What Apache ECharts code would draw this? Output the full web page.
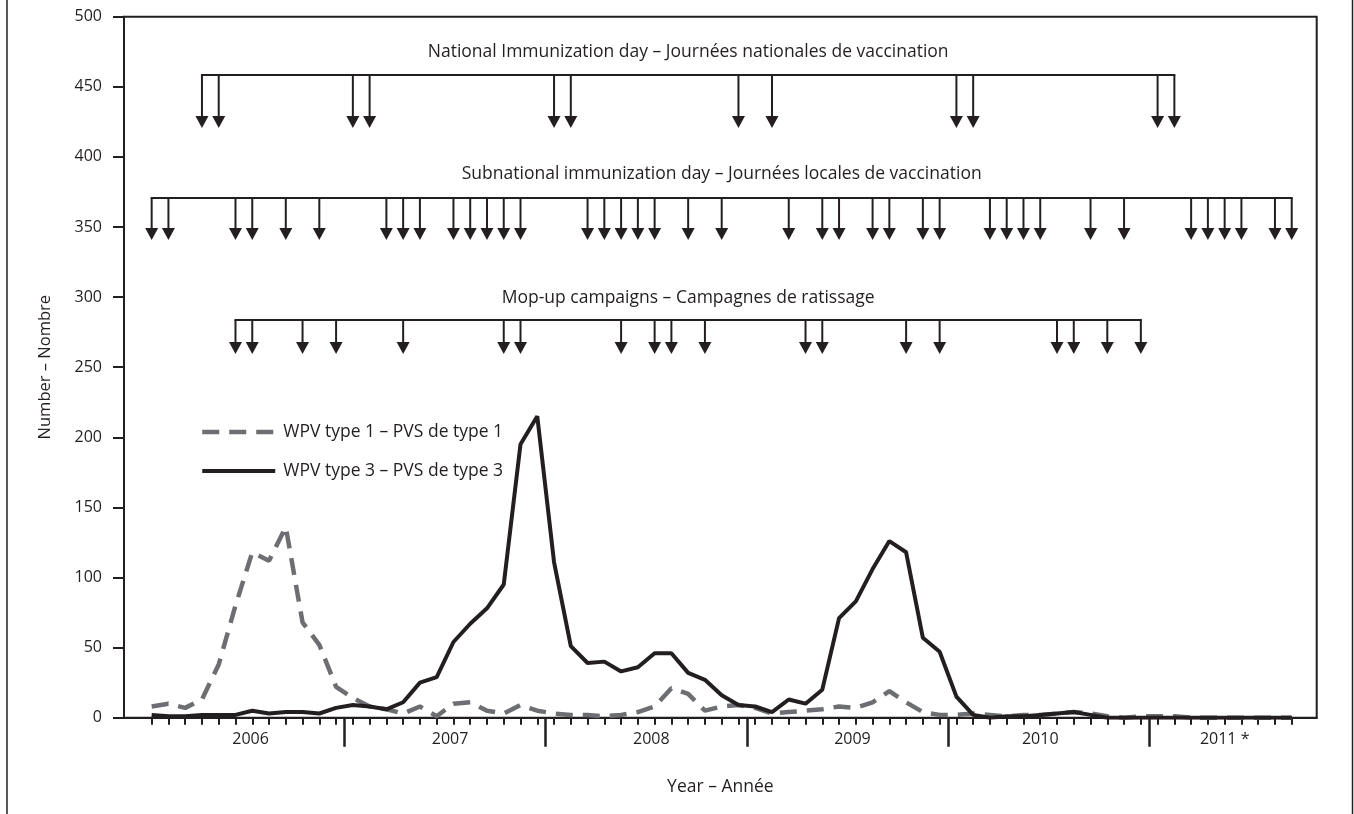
<!DOCTYPE html>
<html>
<head>
<meta charset="utf-8">
<script src="https://cdn.jsdelivr.net/npm/echarts@6/dist/echarts.min.js"></script>
<style>
  html, body { margin: 0; padding: 0; background: #ffffff; }
  #chart { width: 1354px; height: 814px; }
</style>
</head>
<body>
<div id="chart"></div>
<script>
// ---- Data (monthly counts, Jan 2006 .. Sep 2011; index 0 = Jan 2006) ----
const yearLabels = ['2006', '2007', '2008', '2009', '2010', '2011 *'];

const wpv1 = [
  8, 10, 7, 13, 38, 80, 118, 112, 136, 68, 52, 22,   // 2006
  14, 8, 6, 3, 8, 1, 10, 11, 5, 3, 9, 5,             // 2007
  3, 2, 2, 1, 2, 4, 8, 21, 17, 5, 8, 9,              // 2008
  7, 3, 4, 5, 6, 8, 7, 11, 19, 11, 4, 2,             // 2009
  2, 3, 2, 1, 2, 2, 3, 4, 3, 1, 0, 1,                // 2010
  1, 1, 0, 0, 0, 0, 0, 0, 0                          // 2011
];

const wpv3 = [
  2, 1, 1, 2, 2, 2, 5, 3, 4, 4, 3, 7,                // 2006
  9, 8, 6, 11, 25, 29, 54, 67, 78, 95, 195, 215,     // 2007
  111, 51, 39, 40, 33, 36, 46, 46, 32, 27, 16, 9,    // 2008
  8, 4, 13, 10, 20, 71, 83, 106, 126, 118, 57, 47,   // 2009
  15, 2, 0, 1, 1, 2, 3, 4, 2, 0, 0, 0,               // 2010
  0, 0, 0, 0, 0, 0, 0, 0, 0                          // 2011
];

// Campaign months (month index, 0 = Jan 2006)
const nidMonths = [3, 4, 12, 13, 24, 25, 35, 37, 48, 49, 60, 61];
const snidMonths = [0, 1, 5, 6, 8, 10, 14, 15, 16, 18, 19, 20, 21, 22, 26, 27, 28, 29, 30, 32, 34,
  38, 40, 41, 43, 44, 46, 47, 50, 51, 52, 53, 56, 58, 62, 63, 64, 65, 67, 68];
const mopMonths = [5, 6, 9, 11, 15, 21, 22, 28, 30, 31, 33, 39, 40, 45, 47, 54, 55, 57, 59];

const seriesNames = ['WPV type 1 – PVS de type 1', 'WPV type 3 – PVS de type 3'];
const campaignLabels = [
  'National Immunization day – Journées nationales de vaccination',
  'Subnational immunization day – Journées locales de vaccination',
  'Mop-up campaigns – Campagnes de ratissage'
];

// ---- Layout / style ----
const INK = '#231f20';
const GREY = '#6d6e71';
const FONT = '"Open Sans", "Noto Sans", sans-serif';
const FS_NUM = 16;
const FS_TXT = 17.5;
const X_MIN = -1.65, X_MAX = 69.49;
const monthTicks = wpv1.map((_, i) => i);
const yearBoundaries = [11.5, 23.5, 35.5, 47.5, 59.5];
const yearLabelShift = [0.4, 0.3, 0.3, 0.3, -0.5, 0];
const yearLabelPos = yearLabels.map((_, k) => {
  const start = 12 * k, end = Math.min(12 * k + 11, wpv1.length - 1);
  return (start + end) / 2 + yearLabelShift[k];
});
const dashedStyle = { color: GREY, width: 4.5, type: [17, 10] };
const solidStyle = { color: INK, width: 4, type: 'solid' };

function campaignSeries(months, bracketV, tipV, labelV, label) {
  return {
    type: 'custom',
    coordinateSystem: 'cartesian2d',
    silent: true,
    clip: false,
    z: 5,
    data: months.map(m => [m, bracketV]),
    encode: { x: 0, y: 1 },
    renderItem: function (params, api) {
      const m = api.value(0);
      const top = api.coord([m, bracketV]);
      const tip = api.coord([m, tipV]);
      const children = [
        { type: 'line', shape: { x1: top[0], y1: top[1], x2: top[0], y2: tip[1] - 10 },
          style: { stroke: INK, lineWidth: 2 } },
        { type: 'polygon', shape: { points: [[tip[0] - 6.5, tip[1] - 12], [tip[0] + 6.5, tip[1] - 12], [tip[0], tip[1]]] },
          style: { fill: INK } }
      ];
      if (params.dataIndex === 0) {
        const a = api.coord([months[0], bracketV]);
        const b = api.coord([months[months.length - 1], bracketV]);
        children.push({ type: 'line', shape: { x1: a[0] - 1, y1: a[1], x2: b[0] + 1, y2: b[1] },
          style: { stroke: INK, lineWidth: 2 } });
        const l = api.coord([(months[0] + months[months.length - 1]) / 2, labelV]);
        children.push({ type: 'text', style: { text: label, x: l[0], y: l[1], align: 'center',
          verticalAlign: 'middle', fontSize: FS_TXT, fontFamily: FONT, fill: INK } });
      }
      return { type: 'group', children: children };
    }
  };
}

const chart = echarts.init(document.getElementById('chart'), null, { renderer: 'canvas' });
chart.setOption({
  animation: false,
  backgroundColor: '#ffffff',
  textStyle: { fontFamily: FONT, color: INK },
  grid: { left: 124, right: 37.3, top: 16.7, bottom: 96.3, show: true, borderColor: INK, borderWidth: 2 },
  legend: {
    data: [
      { name: seriesNames[0], lineStyle: dashedStyle, itemStyle: { color: 'transparent', borderWidth: 0, opacity: 0 } },
      { name: seriesNames[1], lineStyle: solidStyle, itemStyle: { color: 'transparent', borderWidth: 0, opacity: 0 } }
    ],
    orient: 'vertical',
    left: 200,
    top: 423,
    padding: 0,
    itemWidth: 73,
    itemHeight: 20,
    itemGap: 21,
    textStyle: { fontSize: FS_TXT, fontFamily: FONT, color: INK, padding: [0, 0, 0, 3] }
  },
  xAxis: [
    {
      type: 'value', min: X_MIN, max: X_MAX, position: 'bottom',
      axisLine: { show: true, onZero: false, lineStyle: { color: INK, width: 2 } },
      axisTick: { show: true, customValues: monthTicks, length: 7, inside: false, lineStyle: { color: INK, width: 2 } },
      axisLabel: {
        show: true, customValues: yearLabelPos, margin: 14, fontSize: FS_NUM, fontFamily: FONT, color: INK,
        formatter: function (v) {
          let best = 0;
          yearLabelPos.forEach((p, k) => { if (Math.abs(p - v) < Math.abs(yearLabelPos[best] - v)) best = k; });
          return yearLabels[best];
        }
      },
      splitLine: { show: false },
      name: 'Year – Année', nameLocation: 'middle', nameGap: 60,
      nameTextStyle: { fontSize: FS_TXT, fontFamily: FONT, color: INK }
    },
    {
      type: 'value', min: X_MIN, max: X_MAX, position: 'bottom', gridIndex: 0,
      axisLine: { show: false, onZero: false },
      axisTick: { show: true, customValues: yearBoundaries, length: 29, inside: false, lineStyle: { color: INK, width: 2.5 } },
      axisLabel: { show: false },
      splitLine: { show: false }
    }
  ],
  yAxis: {
    type: 'value', min: 0, max: 500, interval: 50,
    axisLine: { show: true, onZero: false, lineStyle: { color: INK, width: 2 } },
    axisTick: { show: true, length: 11, inside: false, lineStyle: { color: INK, width: 2 } },
    axisLabel: { margin: 22, fontSize: FS_NUM, fontFamily: FONT, color: INK },
    splitLine: { show: false },
    name: 'Number – Nombre', nameLocation: 'middle', nameGap: 70,
    nameTextStyle: { fontSize: 16.5, fontFamily: FONT, color: INK }
  },
  series: [
    {
      name: seriesNames[0], type: 'line', symbol: 'none', showSymbol: false, z: 3,
      data: wpv1.map((v, i) => [i, v]),
      lineStyle: dashedStyle,
      itemStyle: { color: GREY }
    },
    {
      name: seriesNames[1], type: 'line', symbol: 'none', showSymbol: false, z: 4,
      data: wpv3.map((v, i) => [i, v]),
      lineStyle: solidStyle,
      itemStyle: { color: INK }
    },
    campaignSeries(nidMonths, 458.4, 420.6, 474.8, campaignLabels[0]),
    campaignSeries(snidMonths, 370.7, 340.7, 387.9, campaignLabels[1]),
    campaignSeries(mopMonths, 283.7, 259.4, 299.4, campaignLabels[2])
  ],
  graphic: [
    { type: 'line', shape: { x1: 7, y1: 0, x2: 7, y2: 814 }, style: { stroke: INK, lineWidth: 1.5 }, silent: true },
    { type: 'line', shape: { x1: 1352.5, y1: 0, x2: 1352.5, y2: 814 }, style: { stroke: INK, lineWidth: 1.5 }, silent: true }
  ]
});
</script>
</body>
</html>
